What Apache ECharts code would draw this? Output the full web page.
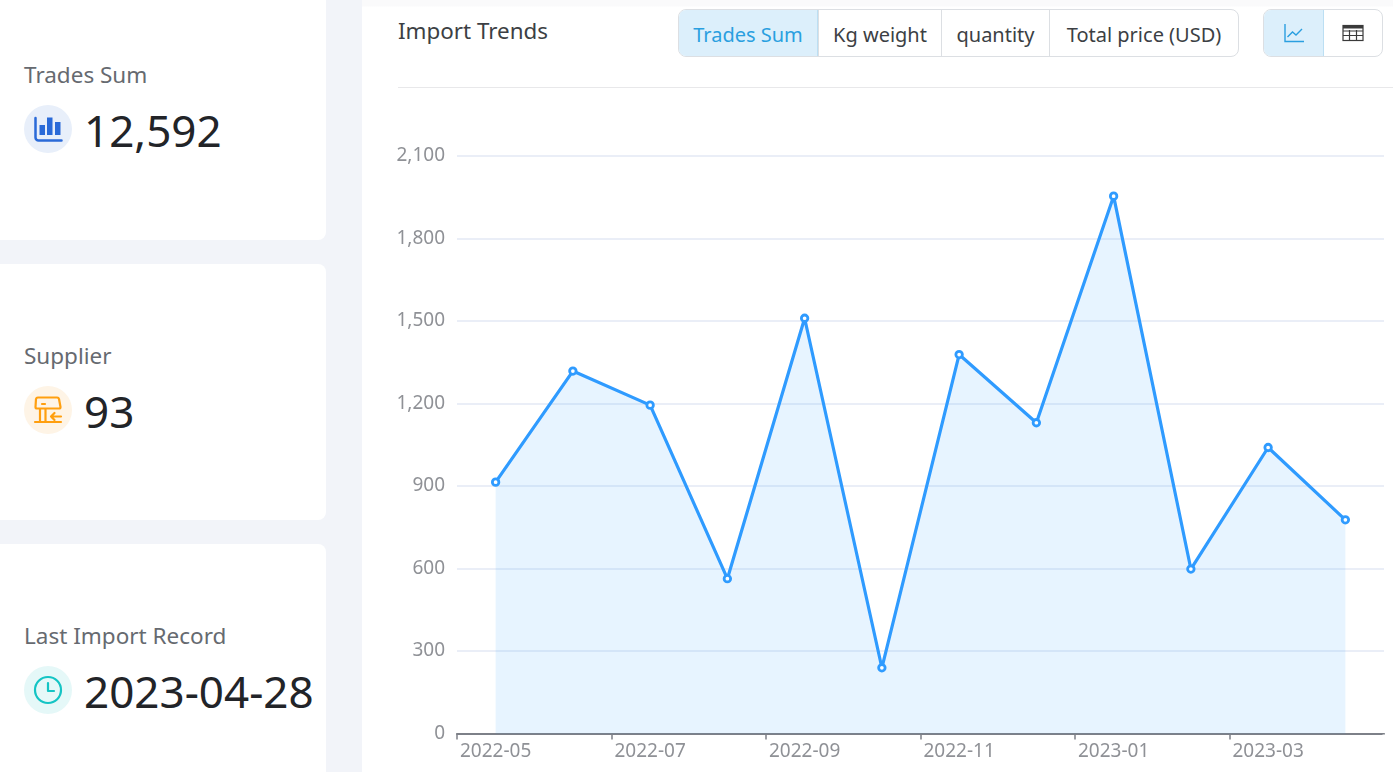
<!DOCTYPE html>
<html><head><meta charset="utf-8">
<script src="https://cdn.jsdelivr.net/npm/echarts@6/dist/echarts.min.js"></script>
<style>
html,body{margin:0;padding:0;width:1393px;height:772px;overflow:hidden;background:#f2f4f9;font-family:"Noto Sans",sans-serif}
.card{position:absolute;left:-10px;width:336px;background:#fff;border-radius:8px}
.lab{position:absolute;left:24px;font-size:22.500px;color:#666a70;line-height:30px;white-space:nowrap}
.val{position:absolute;left:84px;font-size:44px;color:#222428;line-height:60px;white-space:nowrap}
.ic{position:absolute;left:24px;width:48px;height:48px;border-radius:50%}
.ic svg{position:absolute;left:0;top:0}
#panel{position:absolute;left:362px;top:0;width:1031px;height:772px;background:linear-gradient(#fafafb 0,#fafafb 6px,#fff 7px)}
#title{position:absolute;left:398px;top:14px;font-size:22.400px;color:#3c3f44;line-height:34px}
#rule{position:absolute;left:398px;top:87px;width:995px;height:1px;background:#e8e8ea}
.seg{position:absolute;top:9px;height:46px;border:1px solid #dcdfe3;background:#fff;box-sizing:content-box;display:flex;border-radius:8px;overflow:hidden}
.seg div{height:46px;line-height:50px;text-align:center;font-size:20px;color:#3c3f44;border-left:1px solid #dcdfe3;box-sizing:border-box;white-space:nowrap}
.seg div:first-child{border-left:0}
.seg div.on{background:#dceffb;color:#2a9fe0;border-right:1px solid #bcdff3}
#chart{position:absolute;left:362px;top:100px;width:1031px;height:672px}
</style></head><body>
<div id="panel"></div>
<div class="card" style="top:-10px;height:250px"></div>
<div class="card" style="top:264px;height:256px"></div>
<div class="card" style="top:544px;height:260px"></div>

<div class="lab" id="l0" style="top:60px"></div>
<div class="ic" style="top:105px;background:#e8effa"><svg width="48" height="48" viewBox="0 0 48 48"><path d="M11.500 13v19.500a3 3 0 0 0 3 3h23" fill="none" stroke="#2a6ad8" stroke-width="2.500" stroke-linecap="round"/><g fill="#2a6ad8"><rect x="15.500" y="20" width="5.500" height="10"/><rect x="23" y="12.500" width="5.500" height="17.500"/><rect x="31" y="17" width="5.500" height="13"/></g></svg></div>
<div class="val" id="v0" style="top:100px"></div>

<div class="lab" id="l1" style="top:341px"></div>
<div class="ic" style="top:386px;background:#fef4e6"><svg width="48" height="48" viewBox="0 0 48 48"><g fill="none" stroke="#ff9f0f" stroke-width="2.200" stroke-linecap="round" stroke-linejoin="round"><path d="M14 11.500h19a2 2 0 0 1 2 1.500l1.500 8a1.500 1.500 0 0 1-1.500 1.500H13a1.500 1.500 0 0 1-1.500-1.500L12 13a2 2 0 0 1 2-1.500z"/><path d="M18 18h3"/><path d="M16 23v13M21.500 23v13M11 36h26M37 30.500H27M30.500 27l-3.500 3.500 3.500 3.500"/></g></svg></div>
<div class="val" id="v1" style="top:381px"></div>

<div class="lab" id="l2" style="top:621px"></div>
<div class="ic" style="top:666px;background:#e5f8f8"><svg width="48" height="48" viewBox="0 0 48 48"><g fill="none" stroke="#14c4c4" stroke-width="2.200" stroke-linecap="round" stroke-linejoin="round"><circle cx="24" cy="24" r="13"/><path d="M24 17v8h6"/></g></svg></div>
<div class="val" id="v2" style="top:661px"></div>

<div id="title"></div>
<div class="seg" id="tabs" style="left:678px"></div>
<div class="seg" style="left:1263px">
  <div class="on" style="width:60px"><svg width="24" height="24" viewBox="0 0 24 24" style="margin-top:11px"><g fill="none" stroke="#2a9fe0" stroke-width="1.400"><path d="M3 3v17.500h19"/><path d="M5.500 16l5-5 3.500 3 6-6"/></g></svg></div>
  <div style="width:58px;border-left:0"><svg width="24" height="24" viewBox="0 0 24 24" style="margin-top:11px"><g fill="none" stroke="#3a3a3a" stroke-width="1.200"><rect x="2" y="4.500" width="20" height="15"/><path d="M2 10h20M2 14.500h20M8.500 9V19.500M15.500 9V19.500"/></g><rect x="2" y="4" width="20" height="3.500" fill="#3a3a3a"/></svg></div>
</div>
<div id="rule"></div>
<div id="chart"></div>

<script>
const statLabels = ["Trades Sum", "Supplier", "Last Import Record"];
const statValues = ["12,592", "93", "2023-04-28"];
const pageTitle = "Import Trends";
const tabNames = ["Trades Sum", "Kg weight", "quantity", "Total price (USD)"];
const months = ["2022-05","2022-06","2022-07","2022-08","2022-09","2022-10","2022-11","2022-12","2023-01","2023-02","2023-03","2023-04"];
const trades = [914, 1318, 1194, 563, 1510, 239, 1378, 1130, 1954, 598, 1040, 777];

statLabels.forEach((t,i)=>document.getElementById('l'+i).textContent=t);
statValues.forEach((t,i)=>document.getElementById('v'+i).textContent=t);
document.getElementById('title').textContent=pageTitle;
const tabWidths=[139,123,108,189];
const tabs=document.getElementById('tabs');
tabNames.forEach((t,i)=>{const d=document.createElement('div');d.textContent=t;d.style.width=tabWidths[i]+'px';if(i==0)d.className='on';tabs.appendChild(d);});

const chart=echarts.init(document.getElementById('chart'),null,{renderer:'canvas'});
chart.setOption({
  animation:false,
  grid:{left:95,right:9,top:56,bottom:38.5,containLabel:false},
  xAxis:{type:'category',data:months,boundaryGap:true,
    axisLine:{lineStyle:{color:'#7d8088',width:2}},
    axisTick:{show:true,interval:1,length:6,lineStyle:{color:'#7d8088',width:1.500}},
    axisLabel:{interval:1,color:'#8f9196',fontSize:19,fontFamily:'"Noto Sans"',margin:9,hideOverlap:false}},
  yAxis:{type:'value',min:0,max:2100,interval:300,
    axisLine:{show:false},axisTick:{show:false},
    axisLabel:{color:'#8f9196',fontSize:19,fontFamily:'"Noto Sans"',margin:12},
    splitLine:{lineStyle:{color:'#e3e9f4',width:1.500}}},
  graphic:[{type:'rect',z:100,left:1020.5,top:634.5,shape:{width:4,height:9},style:{fill:'#fff'}}],
  series:[{type:'line',data:trades,symbol:'circle',symbolSize:6.5,showSymbol:true,
    lineStyle:{color:'#2f9bff',width:3.2},
    itemStyle:{color:'#fff',borderColor:'#2f9bff',borderWidth:2.8},
    areaStyle:{color:'rgba(47,155,255,0.16)'}}]
});
</script>
</body></html>
